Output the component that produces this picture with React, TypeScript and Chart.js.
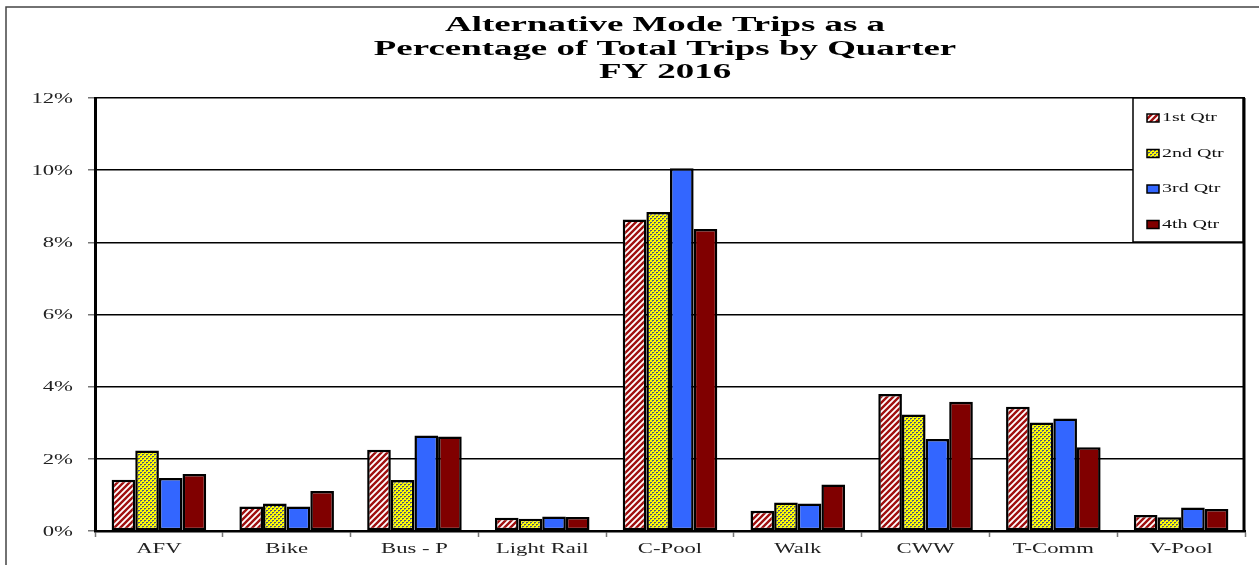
import React, { useEffect, useRef } from "react";
import { Chart, registerables } from "chart.js";

Chart.register(...registerables);

const categories = ["AFV", "Bike", "Bus - P", "Light Rail", "C-Pool", "Walk", "CWW", "T-Comm", "V-Pool"];
const seriesNames = ["1st Qtr", "2nd Qtr", "3rd Qtr", "4th Qtr"];
const q1 = [1.42, 0.68, 2.25, 0.37, 8.63, 0.56, 3.8, 3.44, 0.44];
const q2 = [2.23, 0.76, 1.41, 0.34, 8.84, 0.79, 3.23, 3.01, 0.38];
const q3 = [1.47, 0.68, 2.65, 0.4, 10.05, 0.76, 2.55, 3.12, 0.65];
const q4 = [1.58, 1.11, 2.62, 0.39, 8.37, 1.29, 3.58, 2.32, 0.61];
const titleLines = ["Alternative Mode Trips as a", "Percentage of Total Trips by Quarter", "FY 2016"];
const yTicks = [0, 2, 4, 6, 8, 10, 12];

const SERIF = "'Liberation Serif', 'Times New Roman', serif";
const STRETCH = 1.62;

function stripePattern(ctx: CanvasRenderingContext2D) {
  const s = 6;
  const c = document.createElement("canvas");
  c.width = s;
  c.height = s;
  const x = c.getContext("2d")!;
  x.fillStyle = "#ffffff";
  x.fillRect(0, 0, s, s);
  x.strokeStyle = "#a01010";
  x.lineWidth = 2.4;
  x.beginPath();
  x.moveTo(-1, s + 1);
  x.lineTo(s + 1, -1);
  x.moveTo(-1, 1);
  x.lineTo(1, -1);
  x.moveTo(s - 1, s + 1);
  x.lineTo(s + 1, s - 1);
  x.stroke();
  return ctx.createPattern(c, "repeat")!;
}

function dotPattern(ctx: CanvasRenderingContext2D) {
  const s = 4;
  const c = document.createElement("canvas");
  c.width = s;
  c.height = s;
  const x = c.getContext("2d")!;
  x.fillStyle = "#ffff00";
  x.fillRect(0, 0, s, s);
  x.fillStyle = "#4a5278";
  x.fillRect(0, 0, 2, 1);
  x.fillRect(2, 2, 2, 1);
  x.fillStyle = "#9a9a60";
  x.fillRect(0, 1, 1, 1);
  x.fillRect(2, 3, 1, 1);
  return ctx.createPattern(c, "repeat")!;
}

function stretchedText(
  c: CanvasRenderingContext2D,
  text: string,
  x: number,
  y: number,
  sx: number,
  align: CanvasTextAlign
) {
  c.save();
  c.translate(x, y);
  c.scale(sx, 1);
  c.textAlign = align;
  c.fillText(text, 0, 0);
  c.restore();
}

export default function App() {
  const ref = useRef<HTMLCanvasElement | null>(null);

  useEffect(() => {
    const canvas = ref.current!;
    const ctx = canvas.getContext("2d")!;
    const fills = [stripePattern(ctx), dotPattern(ctx), "#3366ff", "#800000"];
    const values = [q1, q2, q3, q4];

    const framePlugin = {
      id: "frame",
      beforeDraw(chart: any) {
        const c = chart.ctx;
        c.save();
        c.fillStyle = "#ffffff";
        c.fillRect(0, 0, chart.width, chart.height);
        c.strokeStyle = "#444";
        c.lineWidth = 1.5;
        c.beginPath();
        c.moveTo(6, chart.height);
        c.lineTo(6, 7);
        c.lineTo(chart.width, 7);
        c.stroke();
        c.restore();
      },
      afterDatasetsDraw(chart: any) {
        const c = chart.ctx;
        const a = chart.chartArea;
        c.save();
        c.strokeStyle = "#000";
        c.lineWidth = 3;
        c.beginPath();
        c.moveTo(a.right - 1, a.top);
        c.lineTo(a.right - 1, a.bottom);
        c.stroke();
        c.restore();
      },
      afterDraw(chart: any) {
        const c = chart.ctx;
        const a = chart.chartArea;
        c.save();
        // title
        c.fillStyle = "#000";
        c.font = `bold 20.5px ${SERIF}`;
        c.textBaseline = "alphabetic";
        const cx = (a.left + a.right) / 2 - 5;
        titleLines.forEach((t, i) => stretchedText(c, t, cx, 31 + i * 23.5, 1.8, "center"));

        // y tick labels
        const ys = chart.scales.y;
        c.fillStyle = "#222";
        c.font = `14px ${SERIF}`;
        c.textBaseline = "middle";
        ys.ticks.forEach((t: any) => {
          stretchedText(c, `${t.value}%`, 73, ys.getPixelForValue(t.value) + 1, STRETCH, "right");
        });
        // x tick labels
        const xs = chart.scales.x;
        c.textBaseline = "alphabetic";
        categories.forEach((l, i) => {
          stretchedText(c, l, xs.getPixelForValue(i), 553, STRETCH, "center");
        });

        // legend box
        const lx = 1133, ly = a.top, lw = 110, lh = 144;
        c.fillStyle = "#fff";
        c.fillRect(lx, ly, lw, lh);
        c.strokeStyle = "#000";
        c.lineWidth = 1.5;
        c.strokeRect(lx, ly, lw, lh);
        c.font = `12.5px ${SERIF}`;
        c.textBaseline = "middle";
        seriesNames.forEach((n, i) => {
          const yy = ly + 20 + i * 35.5;
          c.fillStyle = fills[i] as any;
          c.fillRect(1147, yy - 4, 12, 8);
          c.strokeStyle = "#000";
          c.lineWidth = 1.5;
          c.strokeRect(1147, yy - 4, 12, 8);
          c.fillStyle = "#111";
          stretchedText(c, n, 1162, yy, 1.6, "left");
        });
        c.restore();
      },
    };

    const chart = new Chart(canvas, {
      type: "bar",
      data: {
        labels: categories,
        datasets: seriesNames.map((n, i) => ({
          label: n,
          data: values[i],
          backgroundColor: fills[i] as any,
          borderColor: "#000",
          borderWidth: 2.5,
          borderSkipped: false,
          barPercentage: 1,
          categoryPercentage: 0.74,
        })),
      },
      options: {
        responsive: false,
        animation: false,
        devicePixelRatio: 1,
        layout: { padding: { left: 0, top: 98, right: 14, bottom: 0 } },
        plugins: {
          legend: { display: false },
          title: { display: false },
          tooltip: { enabled: false },
        },
        scales: {
          x: {
            afterFit: (s: any) => {
              s.height = 34;
            },
            grid: {
              offset: true,
              drawOnChartArea: false,
              drawTicks: true,
              tickLength: 6,
              tickColor: "#777",
              tickWidth: 1.5,
            },
            border: { color: "#000", width: 2.5 },
            ticks: { display: false, autoSkip: false },
          },
          y: {
            min: 0,
            max: 12,
            afterFit: (s: any) => {
              s.width = 95;
            },
            afterBuildTicks: (s: any) => {
              s.ticks = yTicks.map((v) => ({ value: v }));
            },
            grid: {
              color: "#000",
              lineWidth: 1.5,
              drawTicks: true,
              tickLength: 7,
              tickColor: "#777",
              tickWidth: 1.5,
            },
            border: { color: "#000", width: 3 },
            ticks: { display: false },
          },
        },
      },
      plugins: [framePlugin],
    });
    return () => chart.destroy();
  }, []);

  return (
    <div style={{ position: "absolute", left: 0, top: 0, width: 1259, height: 565 }}>
      <canvas ref={ref} width={1259} height={565} style={{ display: "block", width: 1259, height: 565 }} />
    </div>
  );
}
